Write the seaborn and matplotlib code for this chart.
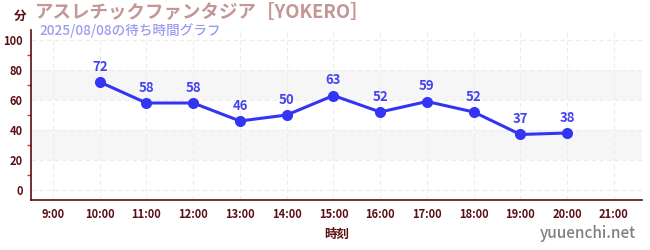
import matplotlib
matplotlib.use("Agg")
import matplotlib.pyplot as plt
import seaborn as sns
import pandas as pd

hours = [10, 11, 12, 13, 14, 15, 16, 17, 18, 19, 20]
waits = [72, 58, 58, 46, 50, 63, 52, 59, 52, 37, 38]
tick_hours = list(range(9, 22))
tick_labels = [f"{h}:00" for h in tick_hours]
title = "アスレチックファンタジア［YOKERO］"
subtitle = "2025/08/08の待ち時間グラフ"

sns.set_theme(style="white")
plt.rcParams['font.family'] = ['Noto Sans CJK JP', 'DejaVu Sans']

fig = plt.figure(figsize=(6.5, 2.5), dpi=100)
ax = fig.add_axes([31/650, 50/250, (642-31)/650, 170/250])

df = pd.DataFrame({"hour": hours, "wait": waits})
line_color = "#3434f5"
sns.lineplot(data=df, x="hour", y="wait", ax=ax, color=line_color, lw=2.2,
             marker="o", markersize=8, markeredgewidth=0, zorder=5)

for h, w in zip(hours, waits):
    ax.annotate(str(w), (h, w), xytext=(0, 6), textcoords="offset points",
                ha="center", va="bottom", fontsize=9.5, fontweight="bold",
                color="#4444ee", zorder=6)

ax.set_xlim(8.53, 21.6)
ax.set_ylim(-6.7, 106.7)

# bands
for lo, hi in [(20, 40), (60, 80)]:
    ax.axhspan(lo, hi, color="#f6f6f6", zorder=0, lw=0)

for y in range(0, 101, 20):
    ax.axhline(y, color="#ececec", lw=0.8, ls=(0, (4, 3)), zorder=1)
for x in tick_hours:
    ax.axvline(x, color="#ececec", lw=0.8, ls=(0, (4, 3)), zorder=1)

dark = "#5a0f14"
ax.set_xticks(tick_hours)
ax.set_xticklabels(tick_labels)
ax.set_yticks(range(0, 101, 20))
ax.set_yticks(range(10, 100, 20), minor=True)
ax.tick_params(axis="both", which="major", labelsize=8, colors=dark, length=4, width=1,
               direction="out", pad=2)
ax.tick_params(axis="x", which="major", color="#888888")
ax.tick_params(axis="y", which="major", color="#333333")
ax.tick_params(axis="y", which="minor", length=3, color="#e03030", left=True, width=1)
for lab in ax.get_xticklabels() + ax.get_yticklabels():
    lab.set_fontweight("bold")

for s in ["top", "right"]:
    ax.spines[s].set_visible(False)
for s in ["left", "bottom"]:
    ax.spines[s].set_color(dark)
    ax.spines[s].set_linewidth(1.2)

ax.set_xlabel("時刻", fontsize=9, fontweight="bold", color=dark, labelpad=5)
ax.set_ylabel("")

fig.text(14/650, 1 - 16/250, "分", fontsize=9, fontweight="bold", color=dark, va="center", ha="left")
fig.text(35/650, 1 - 13/250, title, fontsize=13.3, fontweight="bold", color="#c49696", va="center", ha="left")
fig.text(39/650, 1 - 31/250, subtitle, fontsize=9.8, fontweight="medium", color="#9b9bf0", va="center", ha="left")
fig.text(636/650, 1 - 234/250, "yuuenchi.net", fontsize=11, fontweight="medium", color="#808080", va="center", ha="right")

fig.savefig("out.png", dpi=100)
